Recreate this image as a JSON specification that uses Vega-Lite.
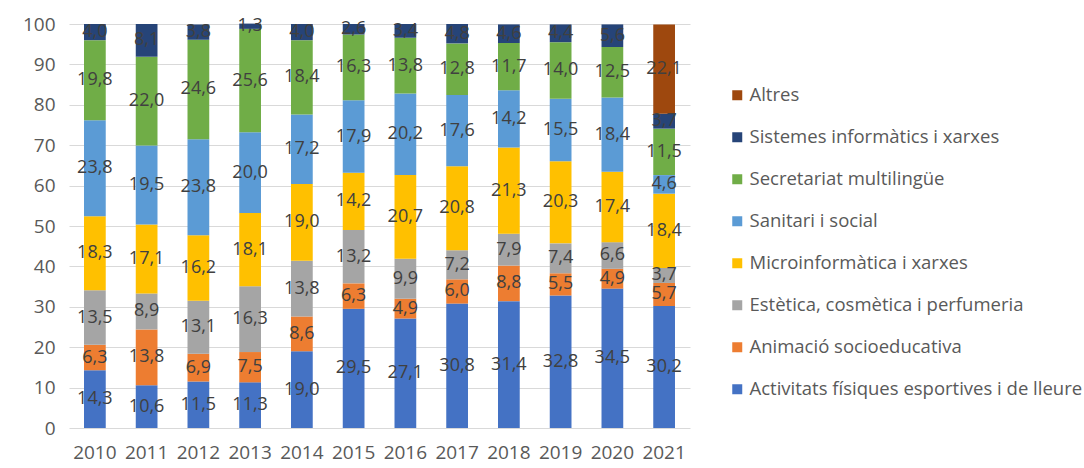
{
  "$schema": "https://vega.github.io/schema/vega-lite/v6.json",
  "autosize": {"type": "none"},
  "width": 621,
  "height": 404,
  "padding": {"left": 69, "top": 24, "right": 394, "bottom": 40},
  "config": {
    "locale": {"number": {"decimal": ",", "thousands": ".", "grouping": [3], "currency": ["", " €"]}},
    "view": {"stroke": null},
    "font": "Open Sans"
  },
  "data": {"values": [
    {"year": "2010", "cat": "Activitats físiques esportives i de lleure", "ord": 1, "v": 14.3},
    {"year": "2010", "cat": "Animació socioeducativa", "ord": 2, "v": 6.3},
    {"year": "2010", "cat": "Estètica, cosmètica i perfumeria", "ord": 3, "v": 13.5},
    {"year": "2010", "cat": "Microinformàtica i xarxes", "ord": 4, "v": 18.3},
    {"year": "2010", "cat": "Sanitari i social", "ord": 5, "v": 23.8},
    {"year": "2010", "cat": "Secretariat multilingüe", "ord": 6, "v": 19.8},
    {"year": "2010", "cat": "Sistemes informàtics i xarxes", "ord": 7, "v": 4.0},
    {"year": "2011", "cat": "Activitats físiques esportives i de lleure", "ord": 1, "v": 10.6},
    {"year": "2011", "cat": "Animació socioeducativa", "ord": 2, "v": 13.8},
    {"year": "2011", "cat": "Estètica, cosmètica i perfumeria", "ord": 3, "v": 8.9},
    {"year": "2011", "cat": "Microinformàtica i xarxes", "ord": 4, "v": 17.1},
    {"year": "2011", "cat": "Sanitari i social", "ord": 5, "v": 19.5},
    {"year": "2011", "cat": "Secretariat multilingüe", "ord": 6, "v": 22.0},
    {"year": "2011", "cat": "Sistemes informàtics i xarxes", "ord": 7, "v": 8.1},
    {"year": "2012", "cat": "Activitats físiques esportives i de lleure", "ord": 1, "v": 11.5},
    {"year": "2012", "cat": "Animació socioeducativa", "ord": 2, "v": 6.9},
    {"year": "2012", "cat": "Estètica, cosmètica i perfumeria", "ord": 3, "v": 13.1},
    {"year": "2012", "cat": "Microinformàtica i xarxes", "ord": 4, "v": 16.2},
    {"year": "2012", "cat": "Sanitari i social", "ord": 5, "v": 23.8},
    {"year": "2012", "cat": "Secretariat multilingüe", "ord": 6, "v": 24.6},
    {"year": "2012", "cat": "Sistemes informàtics i xarxes", "ord": 7, "v": 3.8},
    {"year": "2013", "cat": "Activitats físiques esportives i de lleure", "ord": 1, "v": 11.3},
    {"year": "2013", "cat": "Animació socioeducativa", "ord": 2, "v": 7.5},
    {"year": "2013", "cat": "Estètica, cosmètica i perfumeria", "ord": 3, "v": 16.3},
    {"year": "2013", "cat": "Microinformàtica i xarxes", "ord": 4, "v": 18.1},
    {"year": "2013", "cat": "Sanitari i social", "ord": 5, "v": 20.0},
    {"year": "2013", "cat": "Secretariat multilingüe", "ord": 6, "v": 25.6},
    {"year": "2013", "cat": "Sistemes informàtics i xarxes", "ord": 7, "v": 1.3},
    {"year": "2014", "cat": "Activitats físiques esportives i de lleure", "ord": 1, "v": 19.0},
    {"year": "2014", "cat": "Animació socioeducativa", "ord": 2, "v": 8.6},
    {"year": "2014", "cat": "Estètica, cosmètica i perfumeria", "ord": 3, "v": 13.8},
    {"year": "2014", "cat": "Microinformàtica i xarxes", "ord": 4, "v": 19.0},
    {"year": "2014", "cat": "Sanitari i social", "ord": 5, "v": 17.2},
    {"year": "2014", "cat": "Secretariat multilingüe", "ord": 6, "v": 18.4},
    {"year": "2014", "cat": "Sistemes informàtics i xarxes", "ord": 7, "v": 4.0},
    {"year": "2015", "cat": "Activitats físiques esportives i de lleure", "ord": 1, "v": 29.5},
    {"year": "2015", "cat": "Animació socioeducativa", "ord": 2, "v": 6.3},
    {"year": "2015", "cat": "Estètica, cosmètica i perfumeria", "ord": 3, "v": 13.2},
    {"year": "2015", "cat": "Microinformàtica i xarxes", "ord": 4, "v": 14.2},
    {"year": "2015", "cat": "Sanitari i social", "ord": 5, "v": 17.9},
    {"year": "2015", "cat": "Secretariat multilingüe", "ord": 6, "v": 16.3},
    {"year": "2015", "cat": "Sistemes informàtics i xarxes", "ord": 7, "v": 2.6},
    {"year": "2016", "cat": "Activitats físiques esportives i de lleure", "ord": 1, "v": 27.1},
    {"year": "2016", "cat": "Animació socioeducativa", "ord": 2, "v": 4.9},
    {"year": "2016", "cat": "Estètica, cosmètica i perfumeria", "ord": 3, "v": 9.9},
    {"year": "2016", "cat": "Microinformàtica i xarxes", "ord": 4, "v": 20.7},
    {"year": "2016", "cat": "Sanitari i social", "ord": 5, "v": 20.2},
    {"year": "2016", "cat": "Secretariat multilingüe", "ord": 6, "v": 13.8},
    {"year": "2016", "cat": "Sistemes informàtics i xarxes", "ord": 7, "v": 3.4},
    {"year": "2017", "cat": "Activitats físiques esportives i de lleure", "ord": 1, "v": 30.8},
    {"year": "2017", "cat": "Animació socioeducativa", "ord": 2, "v": 6.0},
    {"year": "2017", "cat": "Estètica, cosmètica i perfumeria", "ord": 3, "v": 7.2},
    {"year": "2017", "cat": "Microinformàtica i xarxes", "ord": 4, "v": 20.8},
    {"year": "2017", "cat": "Sanitari i social", "ord": 5, "v": 17.6},
    {"year": "2017", "cat": "Secretariat multilingüe", "ord": 6, "v": 12.8},
    {"year": "2017", "cat": "Sistemes informàtics i xarxes", "ord": 7, "v": 4.8},
    {"year": "2018", "cat": "Activitats físiques esportives i de lleure", "ord": 1, "v": 31.4},
    {"year": "2018", "cat": "Animació socioeducativa", "ord": 2, "v": 8.8},
    {"year": "2018", "cat": "Estètica, cosmètica i perfumeria", "ord": 3, "v": 7.9},
    {"year": "2018", "cat": "Microinformàtica i xarxes", "ord": 4, "v": 21.3},
    {"year": "2018", "cat": "Sanitari i social", "ord": 5, "v": 14.2},
    {"year": "2018", "cat": "Secretariat multilingüe", "ord": 6, "v": 11.7},
    {"year": "2018", "cat": "Sistemes informàtics i xarxes", "ord": 7, "v": 4.6},
    {"year": "2019", "cat": "Activitats físiques esportives i de lleure", "ord": 1, "v": 32.8},
    {"year": "2019", "cat": "Animació socioeducativa", "ord": 2, "v": 5.5},
    {"year": "2019", "cat": "Estètica, cosmètica i perfumeria", "ord": 3, "v": 7.4},
    {"year": "2019", "cat": "Microinformàtica i xarxes", "ord": 4, "v": 20.3},
    {"year": "2019", "cat": "Sanitari i social", "ord": 5, "v": 15.5},
    {"year": "2019", "cat": "Secretariat multilingüe", "ord": 6, "v": 14.0},
    {"year": "2019", "cat": "Sistemes informàtics i xarxes", "ord": 7, "v": 4.4},
    {"year": "2020", "cat": "Activitats físiques esportives i de lleure", "ord": 1, "v": 34.5},
    {"year": "2020", "cat": "Animació socioeducativa", "ord": 2, "v": 4.9},
    {"year": "2020", "cat": "Estètica, cosmètica i perfumeria", "ord": 3, "v": 6.6},
    {"year": "2020", "cat": "Microinformàtica i xarxes", "ord": 4, "v": 17.4},
    {"year": "2020", "cat": "Sanitari i social", "ord": 5, "v": 18.4},
    {"year": "2020", "cat": "Secretariat multilingüe", "ord": 6, "v": 12.5},
    {"year": "2020", "cat": "Sistemes informàtics i xarxes", "ord": 7, "v": 5.6},
    {"year": "2021", "cat": "Activitats físiques esportives i de lleure", "ord": 1, "v": 30.2},
    {"year": "2021", "cat": "Animació socioeducativa", "ord": 2, "v": 5.7},
    {"year": "2021", "cat": "Estètica, cosmètica i perfumeria", "ord": 3, "v": 3.7},
    {"year": "2021", "cat": "Microinformàtica i xarxes", "ord": 4, "v": 18.4},
    {"year": "2021", "cat": "Sanitari i social", "ord": 5, "v": 4.6},
    {"year": "2021", "cat": "Secretariat multilingüe", "ord": 6, "v": 11.5},
    {"year": "2021", "cat": "Sistemes informàtics i xarxes", "ord": 7, "v": 3.7},
    {"year": "2021", "cat": "Altres", "ord": 8, "v": 22.1}
  ]},
  "encoding": {
    "x": {
      "field": "year", "type": "nominal", "title": null,
      "scale": {"paddingInner": 0.58, "paddingOuter": 0.29},
      "axis": {"labelAngle": 0, "ticks": false, "domain": false, "labelFontSize": 19, "labelColor": "#595959", "labelPadding": 15}
    },
    "y": {
      "field": "v", "type": "quantitative", "stack": "zero", "title": null,
      "scale": {"domain": [0, 100], "nice": false},
      "axis": {"values": [0, 10, 20, 30, 40, 50, 60, 70, 80, 90, 100], "ticks": false, "domain": false, "labelFontSize": 19, "labelColor": "#595959", "labelPadding": 14, "gridColor": "#d9d9d9", "gridWidth": 1}
    },
    "order": {"field": "ord", "type": "quantitative", "sort": "ascending"}
  },
  "layer": [
    {
      "mark": {"type": "bar"},
      "encoding": {
        "color": {
          "field": "cat", "type": "nominal", "title": null,
          "scale": {
            "domain": ["Altres", "Sistemes informàtics i xarxes", "Secretariat multilingüe", "Sanitari i social", "Microinformàtica i xarxes", "Estètica, cosmètica i perfumeria", "Animació socioeducativa", "Activitats físiques esportives i de lleure"],
            "range": ["#9E480E", "#264478", "#70AD47", "#5B9BD5", "#FFC000", "#A5A5A5", "#ED7D31", "#4472C4"]
          },
          "legend": {
            "orient": "none", "legendX": 659, "legendY": 62,
            "symbolType": "square", "symbolSize": 100, "symbolStrokeWidth": 0,
            "labelFontSize": 18.5, "labelColor": "#595959", "labelLimit": 400, "labelOffset": 3,
            "rowPadding": 23, "symbolOpacity": 1
          }
        }
      }
    },
    {
      "mark": {"type": "text", "fontSize": 18, "color": "#404040"},
      "encoding": {
        "y": {"field": "v", "type": "quantitative", "stack": "zero", "bandPosition": 0.5},
        "text": {"field": "v", "type": "quantitative", "format": ".1f"}
      }
    }
  ]
}
